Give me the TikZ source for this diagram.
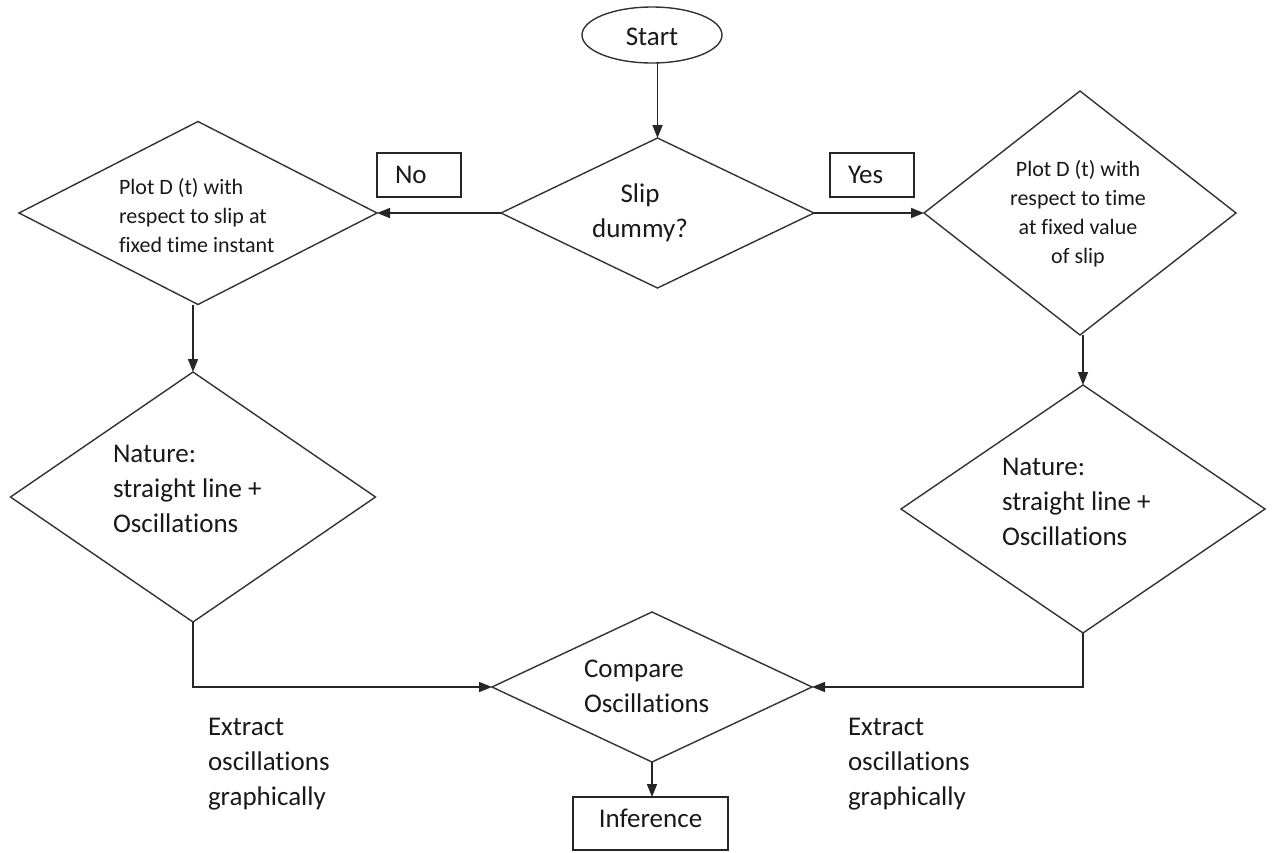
\documentclass[tikz,border=0pt]{standalone}
\usepackage{fontspec}
\setmainfont[Ligatures=NoCommon]{Carlito}
\usetikzlibrary{shapes.geometric,arrows.meta}
\tikzset{
  line/.style={draw=black!85, line width=0.75pt},
  arr/.style={line, -{Triangle[length=6.5pt,width=5pt]}},
  dia/.style={shape=diamond, draw=black!80, line width=0.7pt, inner sep=0pt, outer sep=0pt},
  boxnode/.style={rectangle, draw=black!85, line width=0.75pt, inner sep=0pt, outer sep=0pt, text=black!90},
  bigtxt/.style={font=\fontsize{13.5}{17.5}\selectfont, text=black!90, inner sep=0pt, outer sep=0pt},
  smalltxt/.style={font=\fontsize{11}{14.5}\selectfont, text=black!90, inner sep=0pt, outer sep=0pt}
}
\begin{document}
\begin{tikzpicture}[x=0.5pt,y=-0.5pt]
\useasboundingbox[fill=white] (0,0) rectangle (1275,852);
% shapes
\node[ellipse, draw=black!80, line width=0.7pt, inner sep=0pt, outer sep=0pt,
      minimum width=70pt, minimum height=28pt, text=black!90,
      font=\fontsize{13.5}{17.5}\selectfont, text height=10pt, text depth=0pt] (start) at (652,35) {Start};
\node[dia, minimum width=156.5pt, minimum height=75pt] (D0) at (657.5,213) {};
\node[dia, minimum width=179pt, minimum height=91.5pt] (DL1) at (198,213) {};
\node[dia, minimum width=156pt, minimum height=122pt] (DR1) at (1080,213) {};
\node[dia, minimum width=182.5pt, minimum height=125pt] (DL2) at (193,497) {};
\node[dia, minimum width=182pt, minimum height=124pt] (DR2) at (1083,509) {};
\node[dia, minimum width=160pt, minimum height=75pt] (DC) at (652,687) {};
\node[boxnode, minimum width=42pt, minimum height=22pt, font=\fontsize{13.5}{17.5}\selectfont,
      text width=24pt, align=left, text height=8pt, text depth=0pt] (no) at (419,175) {No};
\node[boxnode, minimum width=42pt, minimum height=22pt, font=\fontsize{13.5}{17.5}\selectfont,
      text width=24pt, align=left, text height=8pt, text depth=0pt] (yes) at (872,175) {Yes};
\node[boxnode, minimum width=77.5pt, minimum height=26.5pt, font=\fontsize{13.5}{17.5}\selectfont,
      text height=8pt, text depth=4.5pt] (inf) at (650.5,823.5) {Inference};
% texts (anchored at the baseline of the last line)
\node[bigtxt, align=center, anchor=base] (t0) at (640,237) {Slip\\dummy?};
\node[smalltxt, align=left, anchor=base west] (tL1) at (119,252) {Plot D (t) with\\respect to slip at\\fixed time instant};
\node[smalltxt, align=center, anchor=base] (tR1) at (1078,263) {Plot D (t) with\\respect to time\\at fixed value\\of slip};
\node[bigtxt, align=left, anchor=base west] (tL2) at (113,532) {Nature:\\straight line +\\Oscillations};
\node[bigtxt, align=left, anchor=base west] (tR2) at (1002,545) {Nature:\\straight line +\\Oscillations};
\node[bigtxt, align=left, anchor=base west] (tC) at (584,712) {Compare\\Oscillations};
\node[bigtxt, align=left, anchor=base west] (eL) at (208,805) {Extract\\oscillations\\graphically};
\node[bigtxt, align=left, anchor=base west] (eR) at (848,805) {Extract\\oscillations\\graphically};
% connectors
\draw[arr] (D0.north |- start.south) -- (D0.north);
\draw[arr] (D0.west) -- (DL1.east);
\draw[arr] (D0.east) -- (DR1.west);
\draw[arr] (DL2.north |- DL1.south) -- (DL2.north);
\draw[arr] (DR2.north |- DR1.south) -- (DR2.north);
\draw[arr] (DL2.south) |- (DC.west);
\draw[arr] (DR2.south) |- (DC.east);
\draw[arr] (DC.south) -- (DC.south |- inf.north);
\end{tikzpicture}
\end{document}
